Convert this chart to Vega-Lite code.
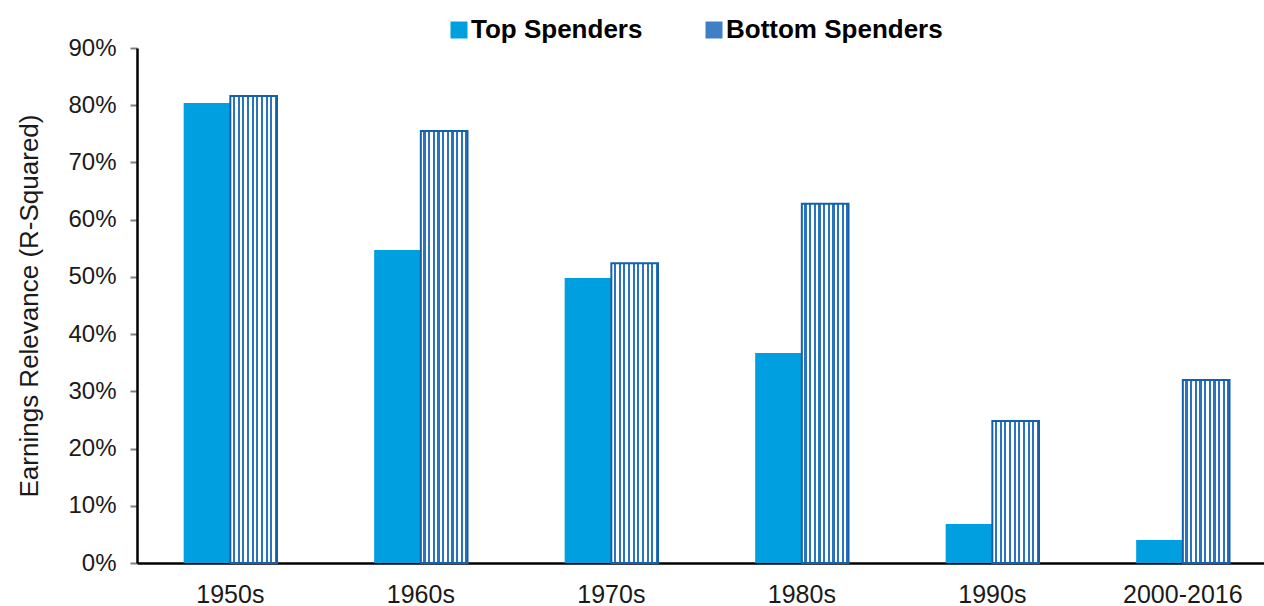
{
  "$schema": "https://vega.github.io/schema/vega-lite/v6.json",
  "autosize": "none",
  "width": 1127,
  "height": 515,
  "padding": {"left": 137, "top": 48, "right": 0, "bottom": 43},
  "background": "white",
  "config": {
    "view": {"stroke": null},
    "font": "Liberation Sans"
  },
  "data": {
    "values": [
      {"decade": "1950s", "series": "Top Spenders", "value": 0.804},
      {"decade": "1950s", "series": "Bottom Spenders", "value": 0.816},
      {"decade": "1960s", "series": "Top Spenders", "value": 0.547},
      {"decade": "1960s", "series": "Bottom Spenders", "value": 0.755},
      {"decade": "1970s", "series": "Top Spenders", "value": 0.498},
      {"decade": "1970s", "series": "Bottom Spenders", "value": 0.524},
      {"decade": "1980s", "series": "Top Spenders", "value": 0.367},
      {"decade": "1980s", "series": "Bottom Spenders", "value": 0.628},
      {"decade": "1990s", "series": "Top Spenders", "value": 0.068},
      {"decade": "1990s", "series": "Bottom Spenders", "value": 0.248},
      {"decade": "2000-2016", "series": "Top Spenders", "value": 0.040},
      {"decade": "2000-2016", "series": "Bottom Spenders", "value": 0.320}
    ]
  },
  "encoding": {
    "x": {
      "field": "decade",
      "type": "nominal",
      "sort": null,
      "scale": {"paddingInner": 0.51, "paddingOuter": 0.213, "align": 0.575},
      "axis": {
        "title": null,
        "labelAngle": 0,
        "labelFontSize": 25,
        "labelColor": "#1a1a1a",
        "labelPadding": 19,
        "ticks": false,
        "domainColor": "black",
        "domainWidth": 2.5
      }
    },
    "xOffset": {
      "field": "series",
      "type": "nominal",
      "sort": ["Top Spenders", "Bottom Spenders"],
      "scale": {"domain": ["Top Spenders", "Bottom Spenders"], "paddingInner": 0, "paddingOuter": 0}
    },
    "y": {
      "field": "value",
      "type": "quantitative",
      "scale": {"domain": [0, 0.9], "nice": false},
      "axis": {
        "title": "Earnings Relevance (R-Squared)",
        "titleFontSize": 26,
        "titleFontWeight": "normal",
        "titleColor": "#1a1a1a",
        "titlePadding": 25,
        "format": ".0%",
        "values": [0, 0.1, 0.2, 0.3, 0.4, 0.5, 0.6, 0.7, 0.8, 0.9],
        "labelFontSize": 24,
        "labelColor": "#1a1a1a",
        "labelPadding": 14,
        "tickSize": 7,
        "tickColor": "#808080",
        "tickWidth": 2,
        "domainColor": "black",
        "domainWidth": 2.5,
        "grid": false
      }
    }
  },
  "layer": [
    {
      "mark": {"type": "bar"},
      "encoding": {
        "fill": {
          "field": "series",
          "type": "nominal",
          "scale": {"domain": ["Top Spenders", "Bottom Spenders"], "range": ["#00a0e0", "#3f7fc6"]},
          "legend": {
            "title": null,
            "orient": "none",
            "direction": "horizontal",
            "legendX": 309,
            "legendY": -31,
            "symbolType": "square",
            "symbolSize": 289,
            "symbolStrokeWidth": 0,
            "labelFontSize": 26,
            "labelFontWeight": "bold",
            "labelColor": "black",
            "labelOffset": -1,
            "columnPadding": 58,
            "labelLimit": 400
          }
        }
      }
    },
    {
      "transform": [{"filter": "datum.series === 'Bottom Spenders'"}],
      "mark": {
        "type": "bar",
        "stroke": "#1560aa",
        "strokeWidth": 2,
        "fill": {
          "gradient": "linear",
          "x1": 0, "y1": 0, "x2": 1, "y2": 0,
          "stops": [
            {"offset": 0.0, "color": "#ffffff"}, {"offset": 0.055, "color": "#ffffff"}, {"offset": 0.055, "color": "#2a73bf"}, {"offset": 0.1, "color": "#2a73bf"},
            {"offset": 0.1, "color": "#ffffff"}, {"offset": 0.155, "color": "#ffffff"}, {"offset": 0.155, "color": "#2a73bf"}, {"offset": 0.2, "color": "#2a73bf"},
            {"offset": 0.2, "color": "#ffffff"}, {"offset": 0.255, "color": "#ffffff"}, {"offset": 0.255, "color": "#2a73bf"}, {"offset": 0.3, "color": "#2a73bf"},
            {"offset": 0.3, "color": "#ffffff"}, {"offset": 0.355, "color": "#ffffff"}, {"offset": 0.355, "color": "#2a73bf"}, {"offset": 0.4, "color": "#2a73bf"},
            {"offset": 0.4, "color": "#ffffff"}, {"offset": 0.455, "color": "#ffffff"}, {"offset": 0.455, "color": "#2a73bf"}, {"offset": 0.5, "color": "#2a73bf"},
            {"offset": 0.5, "color": "#ffffff"}, {"offset": 0.555, "color": "#ffffff"}, {"offset": 0.555, "color": "#2a73bf"}, {"offset": 0.6, "color": "#2a73bf"},
            {"offset": 0.6, "color": "#ffffff"}, {"offset": 0.655, "color": "#ffffff"}, {"offset": 0.655, "color": "#2a73bf"}, {"offset": 0.7, "color": "#2a73bf"},
            {"offset": 0.7, "color": "#ffffff"}, {"offset": 0.755, "color": "#ffffff"}, {"offset": 0.755, "color": "#2a73bf"}, {"offset": 0.8, "color": "#2a73bf"},
            {"offset": 0.8, "color": "#ffffff"}, {"offset": 0.855, "color": "#ffffff"}, {"offset": 0.855, "color": "#2a73bf"}, {"offset": 0.9, "color": "#2a73bf"},
            {"offset": 0.9, "color": "#ffffff"}, {"offset": 0.955, "color": "#ffffff"}, {"offset": 0.955, "color": "#2a73bf"}, {"offset": 1.0, "color": "#2a73bf"}
          ]
        }
      },
      "encoding": {}
    }
  ]
}
